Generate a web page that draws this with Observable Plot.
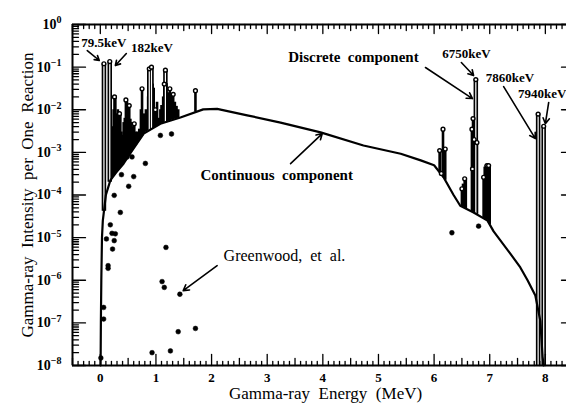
<!DOCTYPE html>
<html><head><meta charset="utf-8">
<script src="https://cdn.jsdelivr.net/npm/d3@7"></script>
<script src="https://cdn.jsdelivr.net/npm/@observablehq/plot@0.6"></script>
<style>body{margin:0;background:#fff} svg{display:block}</style>
</head><body><div id="chart"></div>
<script>
// Continuous component (MeV, intensity)
const contE = [0.005, 0.01, 0.018, 0.03, 0.045, 0.1, 0.18, 0.28, 0.42, 0.55, 0.78, 1.08, 1.44, 1.85, 2.1, 2.64, 3.24, 3.96, 4.73, 5.4, 5.76, 6.0, 6.17, 6.35, 6.47, 6.71, 6.96, 7.07, 7.37, 7.55, 7.68, 7.82, 7.91, 7.95, 7.97];
const contI = [1e-8, 1e-7, 1e-6, 1e-5, 2.5e-5, 1.0e-4, 2.2e-4, 3.3e-4, 5.5e-4, 1.0e-3, 2.75e-3, 4.7e-3, 6.6e-3, 1.02e-2, 1.05e-2, 7.4e-3, 5.0e-3, 2.95e-3, 1.45e-3, 9.3e-4, 6.5e-4, 5.0e-4, 2.6e-4, 1.0e-4, 5.6e-5, 3.9e-5, 2.5e-5, 1.4e-5, 4.2e-6, 2.0e-6, 1.0e-6, 4.4e-7, 1.1e-7, 1.6e-8, 1e-8];

// Discrete lines with a marker at the top (MeV, intensity)
const markE = [0.065, 0.17, 0.255, 0.345, 0.46, 0.52, 0.61, 0.75, 0.88, 0.92, 0.99, 1.15, 1.17, 1.25, 1.31, 1.71,
               6.10, 6.13, 6.16, 6.20, 6.50, 6.55, 6.68, 6.69, 6.70, 6.72, 6.75, 6.77, 6.89, 6.95, 6.98, 7.87, 7.97];
const markI = [0.12, 0.135, 2.0e-2, 8.1e-3, 1.7e-2, 1.25e-2, 4.7e-3, 3.1e-2, 9.1e-2, 0.1, 1.0e-2, 4.0e-2, 8.5e-2, 3.1e-2, 2.3e-2, 2.8e-2,
               1.1e-3, 3.2e-4, 3.5e-3, 1.2e-3, 1.4e-4, 2.4e-4, 3.5e-3, 4.1e-4, 6.2e-3, 2.0e-3, 5.1e-2, 1.7e-3, 2.6e-4, 4.9e-4, 4.9e-4, 7.9e-3, 4.1e-3];
// Discrete lines without a marker (MeV, intensity)
const fillE = [0.20, 0.22, 0.24, 0.27, 0.285, 0.30, 0.315, 0.33, 0.36, 0.38, 0.40, 0.42, 0.44, 0.48, 0.50, 0.54, 0.56, 0.58, 0.64, 0.67, 0.70, 0.73, 0.78, 0.82, 0.86, 0.90, 0.94, 0.96, 1.02, 1.05, 1.08, 1.10, 1.13, 1.19, 1.22, 1.28, 1.34, 1.37, 1.40,
               6.11, 6.18, 6.52, 6.57, 6.71, 6.74, 6.91, 6.93, 7.00];
const fillI = [2e-3, 4e-3, 1.0e-2, 2.1e-2, 8e-3, 6.3e-3, 1.0e-2, 4e-3, 8.1e-3, 3e-3, 2.5e-3, 5e-3, 6.3e-3, 1.5e-2, 8e-3, 6e-3, 5e-3, 4e-3, 3e-3, 3e-3, 3.5e-3, 1.0e-2, 8e-3, 1.0e-2, 2e-2, 8.3e-2, 4e-2, 3.2e-2, 1.5e-2, 6.3e-3, 1.0e-2, 1.26e-2, 2.0e-2, 4.1e-2, 2.5e-2, 2.3e-2, 1.5e-2, 1.2e-2, 1.0e-2,
               1.1e-3, 1.1e-3, 1.8e-4, 2.2e-4, 2.5e-3, 2.2e-3, 4.5e-4, 4.9e-4, 4.9e-4];
const floorLines = [7.87, 7.97];

// Greenwood, et al. points
const gwE = [0.51, 0.25, 0.36, 0.18, 0.21, 0.27, 0.11, 0.25, 0.22, 1.18, 0.14, 0.14, 1.11, 1.15, 1.43, 0.06, 0.06, 1.71, 1.40, 0.93, 1.26, 0.01, 1.08, 1.28, 0.48, 0.57, 0.81, 0.38, 0.60, 6.32, 6.80];
const gwI = [1.6e-4, 9.8e-5, 3.9e-5, 2.0e-5, 1.26e-5, 1.23e-5, 9.3e-6, 8.5e-6, 5.4e-6, 5.9e-6, 2.2e-6, 1.9e-6, 9.3e-7, 6.8e-7, 4.7e-7, 2.3e-7, 1.23e-7, 7.4e-8, 6.2e-8, 2.0e-8, 2.2e-8, 1.5e-8, 2.5e-3, 2.7e-3, 7.8e-4, 7.8e-4, 5.5e-4, 3.0e-4, 2.7e-4, 1.3e-5, 1.86e-5];

// Tick values
const xTickLabels = [0, 1, 2, 3, 4, 5, 6, 7, 8];
const yTickExps = [0, -1, -2, -3, -4, -5, -6, -7, -8];

// Annotations
const keVText = ["79.5keV", "182keV", "6750keV", "7860keV"];
const keVE = [0.063, 0.93, 6.58, 7.365];
const keVI = [0.38, 0.288, 0.209, 0.057];
const edgeText = ["7940keV"];
const edgeE = [7.51];
const edgeI = [0.024];
const compText = ["Discrete  component", "Continuous  component"];
const compE = [4.55, 3.17];
const compI = [0.168, 2.85e-4];
const refText = ["Greenwood,  et  al."];
const refE = [3.31];
const refI = [3.8e-6];
const arrowE1 = [-0.234, 0.468, 5.845, 6.49, 7.25, 8.06, 3.42, 2.10];
const arrowI1 = [0.245, 0.209, 0.098, 0.128, 0.035, 0.0148, 5.46e-4, 2.2e-6];
const arrowE2 = [-0.018, 0.27, 6.69, 6.71, 7.82, 8.0, 3.99, 1.49];
const arrowI2 = [0.143, 0.109, 0.0183, 0.0635, 0.0021, 0.0047, 2.76e-3, 5.7e-7];

const xDomain = [-0.5, 8.38];
const yDomain = [1e-8, 1];

function contAt(e) {
  for (let k = 1; k < contE.length; k++) {
    if (e <= contE[k]) {
      const t = (e - contE[k - 1]) / (contE[k] - contE[k - 1]);
      return Math.pow(10, Math.log10(contI[k - 1]) * (1 - t) + Math.log10(contI[k]) * t);
    }
  }
  return contI[contI.length - 1];
}
const mkLine = (e, v) => ({e, v, base: floorLines.includes(e) ? yDomain[0] : contAt(e)});
const cont = contE.map((e, i) => ({e, v: contI[i]}));
const marked = markE.map((e, i) => mkLine(e, markI[i]));
const filled = fillE.map((e, i) => mkLine(e, fillI[i]));
const allLines = filled.concat(marked);
const openLines = marked.filter(d => d.v > 0.045 || floorLines.includes(d.e));
const gw = gwE.map((e, i) => ({e, v: gwI[i]}));
const tbl = (T, E, I) => T.map((t, i) => ({t, e: E[i], v: I[i]}));
const arrows = arrowE1.map((e, i) => ({x1: e, y1: arrowI1[i], x2: arrowE2[i], y2: arrowI2[i]}));

const xMajor = xTickLabels;
const xMid = d3.range(-0.5, 8.4, 1).filter(d => d >= xDomain[0] && d <= xDomain[1]);
const xMinor = d3.range(-5, 84).map(k => k / 10).filter(d => Math.abs(d * 2 - Math.round(d * 2)) > 1e-6);
const yMajor = yTickExps.map(p => Math.pow(10, p));
const yMinor = [];
for (let p = -8; p < 0; p++) for (let k = 2; k <= 9; k++) yMinor.push(k * Math.pow(10, p));

const spike = {draw(ctx, l) { ctx.moveTo(0, 0); ctx.lineTo(0, -l); }};
const tk = (data, opts) => Plot.vector(data, {anchor: "start", shape: spike, stroke: "black", strokeWidth: 1.3, ...opts});

const font = "Liberation Serif, Times New Roman, serif";

const plot = Plot.plot({
  width: 566, height: 407,
  marginLeft: 72, marginRight: 0, marginTop: 24, marginBottom: 42,
  x: {domain: xDomain},
  y: {type: "log", domain: yDomain},
  style: {fontFamily: font, background: "white", color: "black"},
  marks: [
    Plot.axisX({ticks: xMajor, tickSize: 0, tickPadding: 7, fontSize: 13, fontWeight: "bold", label: null, tickFormat: d => String(d)}),
    Plot.axisY({ticks: yMajor, tickSize: 0, tickPadding: 11, fontSize: 14, fontWeight: "bold", label: null, tickFormat: d => "10^" + Math.round(Math.log10(d))}),
    Plot.ruleX(allLines, {x: "e", y1: "base", y2: "v", stroke: "black", strokeWidth: 2.6}),
    Plot.ruleX(openLines, {x: "e", y1: "base", y2: "v", stroke: "black", strokeWidth: 4.5}),
    Plot.ruleX(openLines, {x: "e", y1: "base", y2: "v", stroke: "white", strokeWidth: 1.2, insetTop: 3}),
    Plot.line(cont, {x: "e", y: "v", stroke: "black", strokeWidth: 2.2}),
    Plot.dot(marked, {x: "e", y: "v", r: 1.9, fill: "white", stroke: "black", strokeWidth: 1.4}),
    Plot.dot(gw, {x: "e", y: "v", r: 2.4, fill: "black", stroke: "black", strokeWidth: 0.5}),
    Plot.ruleY([yDomain[0]], {stroke: "black", strokeWidth: 2}),
    Plot.ruleY([yDomain[1]], {stroke: "black", strokeWidth: 2}),
    Plot.ruleX([xDomain[0]], {stroke: "black", strokeWidth: 2}),
    tk(xMajor, {x: d => d, y: yDomain[0], length: 11, rotate: 0}),
    tk(xMid, {x: d => d, y: yDomain[0], length: 7, rotate: 0}),
    tk(xMinor, {x: d => d, y: yDomain[0], length: 4, rotate: 0}),
    tk(xMajor, {x: d => d, y: yDomain[1], length: 9, rotate: 180}),
    tk(xMid, {x: d => d, y: yDomain[1], length: 6, rotate: 180}),
    tk(xMinor, {x: d => d, y: yDomain[1], length: 4, rotate: 180}),
    tk(yMajor, {x: xDomain[0], y: d => d, length: 13, rotate: 90}),
    tk(yMinor, {x: xDomain[0], y: d => d, length: 6, rotate: 90}),
    tk(yMajor, {x: xDomain[1], y: d => d, length: 5, rotate: -90}),
    Plot.arrow(arrows, {x1: "x1", y1: "y1", x2: "x2", y2: "y2", stroke: "black", strokeWidth: 1.6, headLength: 6}),
    Plot.text(tbl(keVText, keVE, keVI), {x: "e", y: "v", text: "t", textAnchor: "middle", fontSize: 13, fontWeight: "bold", fill: "black"}),
    Plot.text(tbl(edgeText, edgeE, edgeI), {x: "e", y: "v", text: "t", textAnchor: "start", fontSize: 13, fontWeight: "bold", fill: "black"}),
    Plot.text(tbl(compText, compE, compI), {x: "e", y: "v", text: "t", textAnchor: "middle", fontSize: 15, fontWeight: "bold", fill: "black", ariaLabel: "comp"}),
    Plot.text(tbl(refText, refE, refI), {x: "e", y: "v", text: "t", textAnchor: "middle", fontSize: 16, fill: "black", ariaLabel: "ref"}),
    Plot.text(["Gamma-ray  Energy  (MeV)"], {frameAnchor: "bottom", textAnchor: "middle", dx: 6, dy: 33, fontSize: 17, fill: "black", ariaLabel: "xtitle"}),
    Plot.text(["Gamma-ray  Intensity  per  One  Reaction"], {frameAnchor: "left", textAnchor: "middle", dx: -45, rotate: -90, fontSize: 17, fill: "black", ariaLabel: "ytitle"})
  ]
});

const svg = d3.select(plot);
svg.selectAll('g[aria-label="y-axis tick label"] text').each(function() {
  const s = d3.select(this).text();
  const m = s.match(/^10\^(-?\d+)$/);
  if (!m) return;
  const t = d3.select(this);
  t.text("");
  t.append("tspan").text("10");
  t.append("tspan").attr("dy", "-0.55em").attr("font-size", 10).text(m[1].replace("-", "\u2212"));
});
svg.selectAll('g[aria-label="xtitle"] text, g[aria-label="ytitle"] text').style("letter-spacing", "0.6px");
svg.selectAll('g[aria-label="comp"] text').style("letter-spacing", "0.7px");
svg.selectAll('g[aria-label="ref"] text').style("letter-spacing", "0.4px");
document.getElementById("chart").appendChild(plot);
</script>
</body></html>
